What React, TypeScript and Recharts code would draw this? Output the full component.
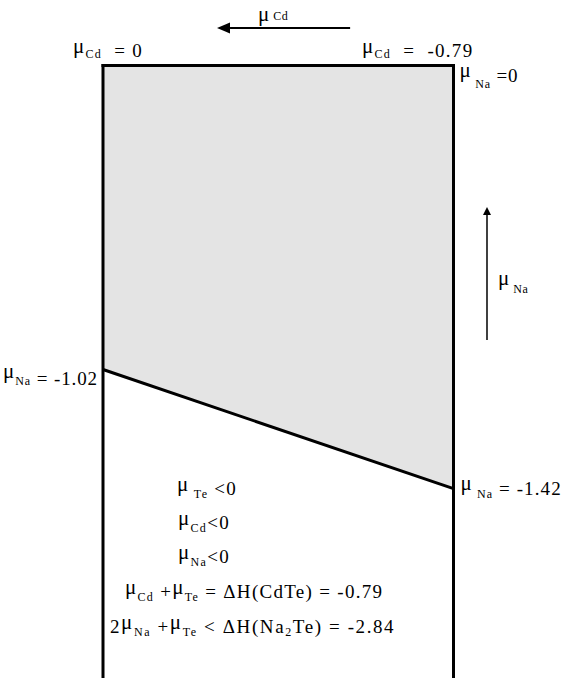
import { ComposedChart, Area, Line, XAxis, YAxis, ReferenceLine, ReferenceDot } from 'recharts';

// chemical potential limits (eV)
const MU_CD = [0, -0.79];
const MU_NA_UPPER = [0, 0];
const MU_NA_LOWER = [-1.02, -1.42];
const MU_NA_MIN = -2.05;

// arrow annotations, in (μCd, μNa) coordinates
const ARROW_CD = [{ x: -0.557, y: 0.126 }, { x: -0.257, y: 0.126 }];
const ARROW_NA = [{ x: -0.8655, y: -0.921 }, { x: -0.8655, y: -0.475 }];

type Part = [string, 'n' | 'm' | 's'];

const LABEL_CD_LEFT: Part[] = [['μ', 'm'], ['Cd', 's'], ['  = 0', 'n']];
const LABEL_CD_RIGHT: Part[] = [['μ', 'm'], ['Cd', 's'], ['  =  -0.79', 'n']];
const LABEL_NA_TOP: Part[] = [['μ', 'm'], [' Na', 's'], [' =0', 'n']];
const LABEL_NA_LEFT: Part[] = [['μ', 'm'], ['Na', 's'], [' = -1.02', 'n']];
const LABEL_NA_RIGHT: Part[] = [['μ', 'm'], [' Na', 's'], [' = -1.42', 'n']];
const LABEL_ARROW_CD: Part[] = [['μ', 'm'], [' Cd', 's']];
const LABEL_ARROW_NA: Part[] = [['μ', 'm'], [' Na', 's']];

const CONSTRAINTS: Part[][] = [
  [['μ', 'm'], [' Te', 's'], [' <0', 'n']],
  [['μ', 'm'], ['Cd', 's'], ['<0', 'n']],
  [['μ', 'm'], ['Na', 's'], ['<0', 'n']],
  [['μ', 'm'], ['Cd', 's'], [' +', 'n'], ['μ', 'm'], ['Te', 's'], [' = ΔH(CdTe) = -0.79', 'n']],
  [['2', 'n'], ['μ', 'm'], ['Na', 's'], [' +', 'n'], ['μ', 'm'], ['Te', 's'], [' < ΔH(Na', 'n'], ['2', 's'], ['Te) = -2.84', 'n']],
];

const FONT = "'Liberation Serif', 'DejaVu Serif', 'Times New Roman', serif";

const Rich = ({ x, y, parts, anchor = 'start', size = 19, sub = 12, raise = 5, drop = 2, spacing = 1.3 }: any) => {
  let cur = 0;
  return (
    <text
      x={x}
      y={y}
      textAnchor={anchor}
      fill="#000"
      style={{ whiteSpace: 'pre', fontFamily: FONT, fontSize: size, letterSpacing: spacing }}
    >
      {parts.map(([t, k]: Part, i: number) => {
        const target = k === 'm' ? -raise : k === 's' ? drop : 0;
        const dy = target - cur;
        cur = target;
        return (
          <tspan key={i} dy={dy} style={{ fontSize: k === 's' ? sub : k === 'm' ? size + 2 : size }}>
            {t}
          </tspan>
        );
      })}
    </text>
  );
};

const makeArrow = (head: number, half: number, width: number, label: Part[], lx: number, ly: number, raise: number, drop: number) =>
  (p: any) => {
    const { x1, y1, x2, y2 } = p;
    const len = Math.hypot(x2 - x1, y2 - y1);
    const ux = (x2 - x1) / len;
    const uy = (y2 - y1) / len;
    const bx = x2 - ux * head;
    const by = y2 - uy * head;
    return (
      <g>
        <line x1={x1} y1={y1} x2={bx} y2={by} stroke="#000" strokeWidth={width} />
        <polygon
          points={`${x2},${y2} ${bx - uy * half},${by + ux * half} ${bx + uy * half},${by - ux * half}`}
          fill="#000"
        />
        <Rich x={x2 + lx} y={y2 + ly} parts={label} raise={raise} drop={drop} spacing={0.5} />
      </g>
    );
  };

const label = (parts: Part[], dx: number, dy: number, opts: any = {}) => (p: any) => (
  <Rich x={p.cx + dx} y={p.cy + dy} parts={parts} {...opts} />
);

const CONSTRAINT_POS = [
  [74, 429.5, 1.3],
  [75, 463, 1.3],
  [75, 497, 1.3],
  [22, 532.5, 1.3],
  [7, 567.5, 1.6],
];

export default function App() {
  const data = MU_CD.map((cd, i) => ({
    cd,
    upper: MU_NA_UPPER[i],
    lower: MU_NA_LOWER[i],
    range: [MU_NA_LOWER[i], MU_NA_UPPER[i]],
  }));

  return (
    <div style={{ position: 'absolute', left: 0, top: 0, background: '#fff' }}>
      <ComposedChart width={563} height={683} data={data} margin={{ top: 65.5, right: 109.5, bottom: 6.6, left: 103 }}>
        <XAxis dataKey="cd" type="number" domain={[MU_CD[1], MU_CD[0]]} reversed hide />
        <YAxis type="number" domain={[MU_NA_MIN, 0]} hide />
        <Area dataKey="range" type="linear" fill="#e4e4e4" fillOpacity={1} stroke="none" isAnimationActive={false} />
        <ReferenceLine x={MU_CD[0]} stroke="#000" strokeWidth={3} strokeLinecap="square" ifOverflow="visible" />
        <ReferenceLine x={MU_CD[1]} stroke="#000" strokeWidth={3} strokeLinecap="square" ifOverflow="visible" />
        <Line dataKey="upper" type="linear" stroke="#000" strokeWidth={3} strokeLinecap="square" dot={false} activeDot={false} isAnimationActive={false} />
        <Line dataKey="lower" type="linear" stroke="#000" strokeWidth={3} dot={false} activeDot={false} isAnimationActive={false} />

        <ReferenceLine segment={ARROW_CD} ifOverflow="visible" shape={makeArrow(13, 5.5, 2, LABEL_ARROW_CD, 41, -7, 0, -1)} />
        <ReferenceLine segment={ARROW_NA} ifOverflow="visible" shape={makeArrow(8, 4, 1.5, LABEL_ARROW_NA, 11, 82, 4, 4)} />

        <ReferenceDot x={MU_CD[0]} y={MU_NA_UPPER[0]} r={0} ifOverflow="visible" shape={label(LABEL_CD_LEFT, -30, -8.5, { raise: 4, drop: 1 })} />
        <ReferenceDot x={MU_CD[1]} y={MU_NA_UPPER[1]} r={0} ifOverflow="visible" shape={label(LABEL_CD_RIGHT, -91.5, -8.5, { raise: 4, drop: 1 })} />
        <ReferenceDot x={MU_CD[1]} y={MU_NA_UPPER[1]} r={0} ifOverflow="visible" shape={label(LABEL_NA_TOP, 6, 16.5, { raise: 5, drop: 6, spacing: 0.8 })} />
        <ReferenceDot x={MU_CD[0]} y={MU_NA_LOWER[0]} r={0} ifOverflow="visible" shape={label(LABEL_NA_LEFT, -5, 15.5, { anchor: 'end', raise: 7, drop: 0, spacing: 0.9 })} />
        <ReferenceDot x={MU_CD[1]} y={MU_NA_LOWER[1]} r={0} ifOverflow="visible" shape={label(LABEL_NA_RIGHT, 7, 6.5, { raise: 5, drop: 3, spacing: 1.1 })} />

        <ReferenceDot
          x={MU_CD[0]}
          y={MU_NA_UPPER[0]}
          r={0}
          ifOverflow="visible"
          shape={(p: any) => (
            <g>
              {CONSTRAINTS.map((parts, i) => (
                <Rich
                  key={i}
                  x={p.cx + CONSTRAINT_POS[i][0]}
                  y={p.cy + CONSTRAINT_POS[i][1]}
                  parts={parts}
                  raise={4}
                  drop={3}
                  spacing={CONSTRAINT_POS[i][2]}
                />
              ))}
            </g>
          )}
        />
      </ComposedChart>
    </div>
  );
}
